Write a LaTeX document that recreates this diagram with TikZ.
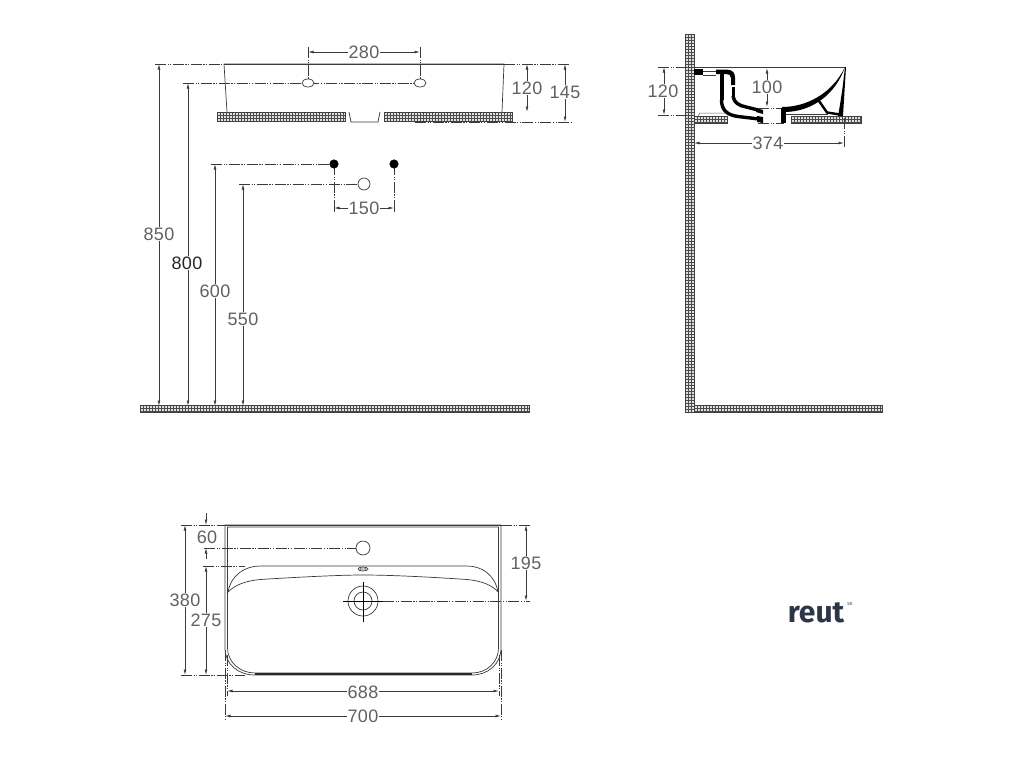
\documentclass[tikz,border=0pt]{standalone}
\usepackage{fontspec}
\setmainfont{Liberation Sans}
\newfontfamily\dimfont[LetterSpace=2]{Liberation Sans}
\newfontfamily\logofont{Fira Sans}
\usetikzlibrary{arrows.meta}
\definecolor{ink}{HTML}{3A3A3A}
\definecolor{logo}{HTML}{2B3648}
\tikzset{
  x=1pt,y=-1pt,
  outline/.style={draw=ink,line width=0.7pt},
  thin outline/.style={draw=ink!80,line width=0.5pt},
  centre/.style={draw=ink,line width=0.55pt,dash pattern=on 11pt off 1.5pt on 1.2pt off 1.5pt on 1.2pt off 1.5pt},
  dimline/.style={draw=ink,line width=0.7pt,{Latex[length=5.5pt,width=2.8pt]}-{Latex[length=5.5pt,width=2.8pt]}},
  dimtext/.style={fill=white,inner sep=0.8pt,text=black!62,font=\dimfont\fontsize{18}{18}\selectfont},
  solid black/.style={fill=black,draw=black,line width=0.4pt},
  thick wall/.style={draw=black,line width=3.4pt,line cap=butt},
}
% hatched rectangle: x1 y1 x2 y2
\newcommand{\hatchbox}[4]{%
  \fill[black!12] (#1,#2) rectangle (#3,#4);
  \foreach \hx in {#1,\the\numexpr#1+3\relax,...,#3} {\draw[black!70,line width=0.7pt] (\hx,#2) -- (\hx,#4);}
  \foreach \hy in {#2,\the\numexpr#2+3\relax,...,#4} {\draw[black!70,line width=0.7pt] (#1,\hy) -- (#3,\hy);}
  \draw[black!75,line width=0.6pt] (#1,#2) rectangle (#3,#4);
}
% dimension with centred label: name, from, to, label position, text
\newcommand{\dimlab}[5]{%
  \coordinate (#1a) at #2; \coordinate (#1b) at #3;
  \draw[dimline] (#1a) -- (#1b);
  \node[dimtext] (#1) at #4 {#5};
}
\begin{document}
\begin{tikzpicture}
\useasboundingbox (0,0) rectangle (1024,768);
\fill[white] (0,0) rectangle (1024,768);

% ---------- front elevation ----------
\draw[centre] (155,64) -- (224,64);
\draw[centre] (504,64) -- (570,64);
\draw[centre] (183,83) -- (420,83);
\draw[centre] (415,122) -- (572,122);
\draw[centre] (308,47) -- (308,83);
\draw[centre] (420,47) -- (420,83);
\draw[outline] (227,112) -- (224,64) -- (504,64) -- (502,112);
\draw[draw=ink,line width=1pt] (224,64) -- (504,64);
\hatchbox{217}{112}{345}{121}
\hatchbox{384}{112}{512}{121}
\draw[outline] (349,112) -- (351,122) -- (378,122) -- (380,112);
\filldraw[outline,fill=white] (308,83) ellipse (6 and 4);
\filldraw[outline,fill=white] (420,83) ellipse (6 and 4);
\draw[draw=ink,line width=0.6pt] (308,47) -- (308,56) (420,47) -- (420,56);
\dimlab{dA}{(308,52)}{(420,52)}{(364,52)}{280}
\dimlab{dB}{(527,64)}{(527,112)}{(527,88)}{120}
\dimlab{dC}{(565,64)}{(565,122)}{(565,92)}{145}

% rough-in points
\draw[centre] (211,164) -- (334,164);
\draw[centre] (239,184) -- (358,184);
\draw[centre] (334,164) -- (334,212);
\draw[centre] (394,164) -- (394,212);
\fill[solid black] (334,164) circle (4.3);
\fill[solid black] (394,164) circle (4.3);
\filldraw[outline,fill=white] (364,184) circle (6);
\draw[draw=ink,line width=0.6pt] (334,204) -- (334,212) (394,204) -- (394,212);
\dimlab{dD}{(334,208)}{(394,208)}{(364,208)}{150}

% heights
\dimlab{dE}{(159,64)}{(159,406)}{(159,234)}{850}
\dimlab{dF}{(188,83)}{(188,406)}{(187,263)}{\textcolor{black!85}{800}}
\dimlab{dG}{(215,164)}{(215,406)}{(215,291)}{600}
\dimlab{dH}{(243,184)}{(243,406)}{(243,319)}{550}
\hatchbox{140}{405}{529}{412}

% ---------- side section ----------
\hatchbox{685}{34}{694}{412}
\hatchbox{694}{405}{882}{412}
\hatchbox{694}{116}{727}{123}
\hatchbox{791}{116}{861}{123}
\draw[centre] (658,67) -- (694,67);
\draw[centre] (658,115) -- (694,115);
\draw[centre] (844,118) -- (844,148);
\draw[outline] (694,67) -- (845,67);
\draw[thin outline] (698,116) -- (700,113) -- (725,113);
% wall flange
\fill[black] (694,69) rectangle (703,75);
\draw[outline] (703,71) -- (716,71) (703,75) -- (716,75);
\fill[black] (716,69.5) -- (727,69.5) .. controls (733,70) and (735,73) .. (735,78) -- (735,85) -- (731,85) -- (731,78) .. controls (731,75) and (729,74) .. (726,74) -- (716,74) -- cycle;
\fill[black] (720,74) rectangle (723.5,100);
\fill[black] (731.5,87) rectangle (735,97);
% outer trap sweep
\draw[thick wall] (721.5,100) .. controls (721.5,110) and (727,115) .. (738,116.5) -- (759,119);
\fill[black] (757,116) -- (763,117) -- (763,123) -- (757,122) -- cycle;
% inner trap sweep
\draw[thick wall] (733,96) .. controls (734,103) and (739,105.5) .. (746,107) -- (758,110);
\fill[black] (756,108) -- (763,110) -- (763,114) -- (756,112) -- cycle;
% drain
\draw[centre] (758,108) -- (784,108);
\draw[centre] (758,123) -- (784,123);
\fill[black] (781,108) rectangle (786,123);
% bowl right side
\fill[black] (782,107) .. controls (806,107) and (832,94) .. (845,67) .. controls (836,93) and (814,111) .. (786,112) -- (782,112) -- cycle;
\fill[black] (845,67) -- (846,67) -- (843,116) -- (838,116) .. controls (841,100) and (843,85) .. (845,67) -- cycle;
\draw[draw=black,line width=2.4pt] (819,101) -- (827,112.5) -- (840,114.5);
\draw[draw=ink,line width=1pt] (786,114) -- (828,114);
\dimlab{dI}{(664,67)}{(664,115)}{(663,91)}{120}
\dimlab{dJ}{(767,68)}{(767,107)}{(767,87)}{100}
\dimlab{dK}{(694,143)}{(844,143)}{(768,143)}{374}

% ---------- plan ----------
\draw[centre] (181,525) -- (225,525);
\draw[centre] (501,525) -- (530,525);
\draw[centre] (181,675) -- (245,675);
\draw[centre] (204,548) -- (356,548);
\draw[centre] (203,566) -- (245,566);
\draw[centre] (383,601) -- (530,601);
\draw[centre] (225,650) -- (225,720);
\draw[centre] (501,650) -- (501,720);
\draw[centre] (227,655) -- (227,696);
\draw[centre] (499,655) -- (499,696);
\draw[outline] (225,648) -- (225,525) -- (501,525) -- (501,648)
  .. controls (501,664) and (488,675) .. (472,675) -- (255,675)
  .. controls (238,675) and (225,664) .. cycle;
\draw[outline] (227.5,648) -- (227.5,527) -- (498.5,527) -- (498.5,648)
  .. controls (498.5,662) and (487,673) .. (472,673) -- (255,673)
  .. controls (240,673) and (227.5,662) .. cycle;
\draw[draw=ink,line width=1pt] (225,525) -- (501,525);
\draw[draw=black!85,line width=2pt] (255,674) -- (472,674);
\draw[outline] (228,592) .. controls (231,575) and (245,566) .. (260,566) -- (467,566)
  .. controls (482,566) and (495,575) .. (498,592);
\draw[outline] (228,592) .. controls (235,585) and (245,581) .. (260,579.5)
  .. controls (300,577) and (340,575) .. (363,575)
  .. controls (390,575) and (430,577) .. (467,579.5)
  .. controls (482,581) and (492,585) .. (498,592);
\draw[outline] (363,548) circle (7);
\draw[outline] (363,569) ellipse (5 and 2);
\draw[thin outline] (363,569) ellipse (3 and 1);
\draw[outline] (363,601) circle (15);
\draw[outline] (363,601) circle (9);
\draw[draw=black,line width=1pt] (343,601) -- (383,601) (363,582) -- (363,622);
% 60: arrows from outside
\coordinate (sixA) at (206,513); \coordinate (sixB) at (206,525);
\draw[draw=ink,line width=0.6pt,-{Latex[length=5.5pt,width=2.8pt]}] (sixA) -- (sixB);
\coordinate (sixC) at (206,559); \coordinate (sixD) at (206,548);
\draw[draw=ink,line width=0.6pt,-{Latex[length=5.5pt,width=2.8pt]}] (sixC) -- (sixD);
\node[dimtext,fill=none] (dL) at (207,537) {60};
\dimlab{dM}{(185,525)}{(185,675)}{(185,600)}{380}
\dimlab{dN}{(206,566)}{(206,675)}{(206,620)}{275}
\dimlab{dO}{(526,525)}{(526,601)}{(526,563)}{195}
\dimlab{dP}{(227,691)}{(499,691)}{(363,692)}{688}
\dimlab{dQ}{(225,716)}{(501,716)}{(363,716)}{700}

% ---------- logo ----------
\node[text=logo,inner sep=0pt,font=\logofont\bfseries\fontsize{30}{30}\selectfont] (logoword) at (816,613) {reut};
\node[text=logo,inner sep=0pt,font=\logofont\fontsize{4.5}{4.5}\selectfont] (logosk) at (850,603.5) {SK};
\end{tikzpicture}
\end{document}
